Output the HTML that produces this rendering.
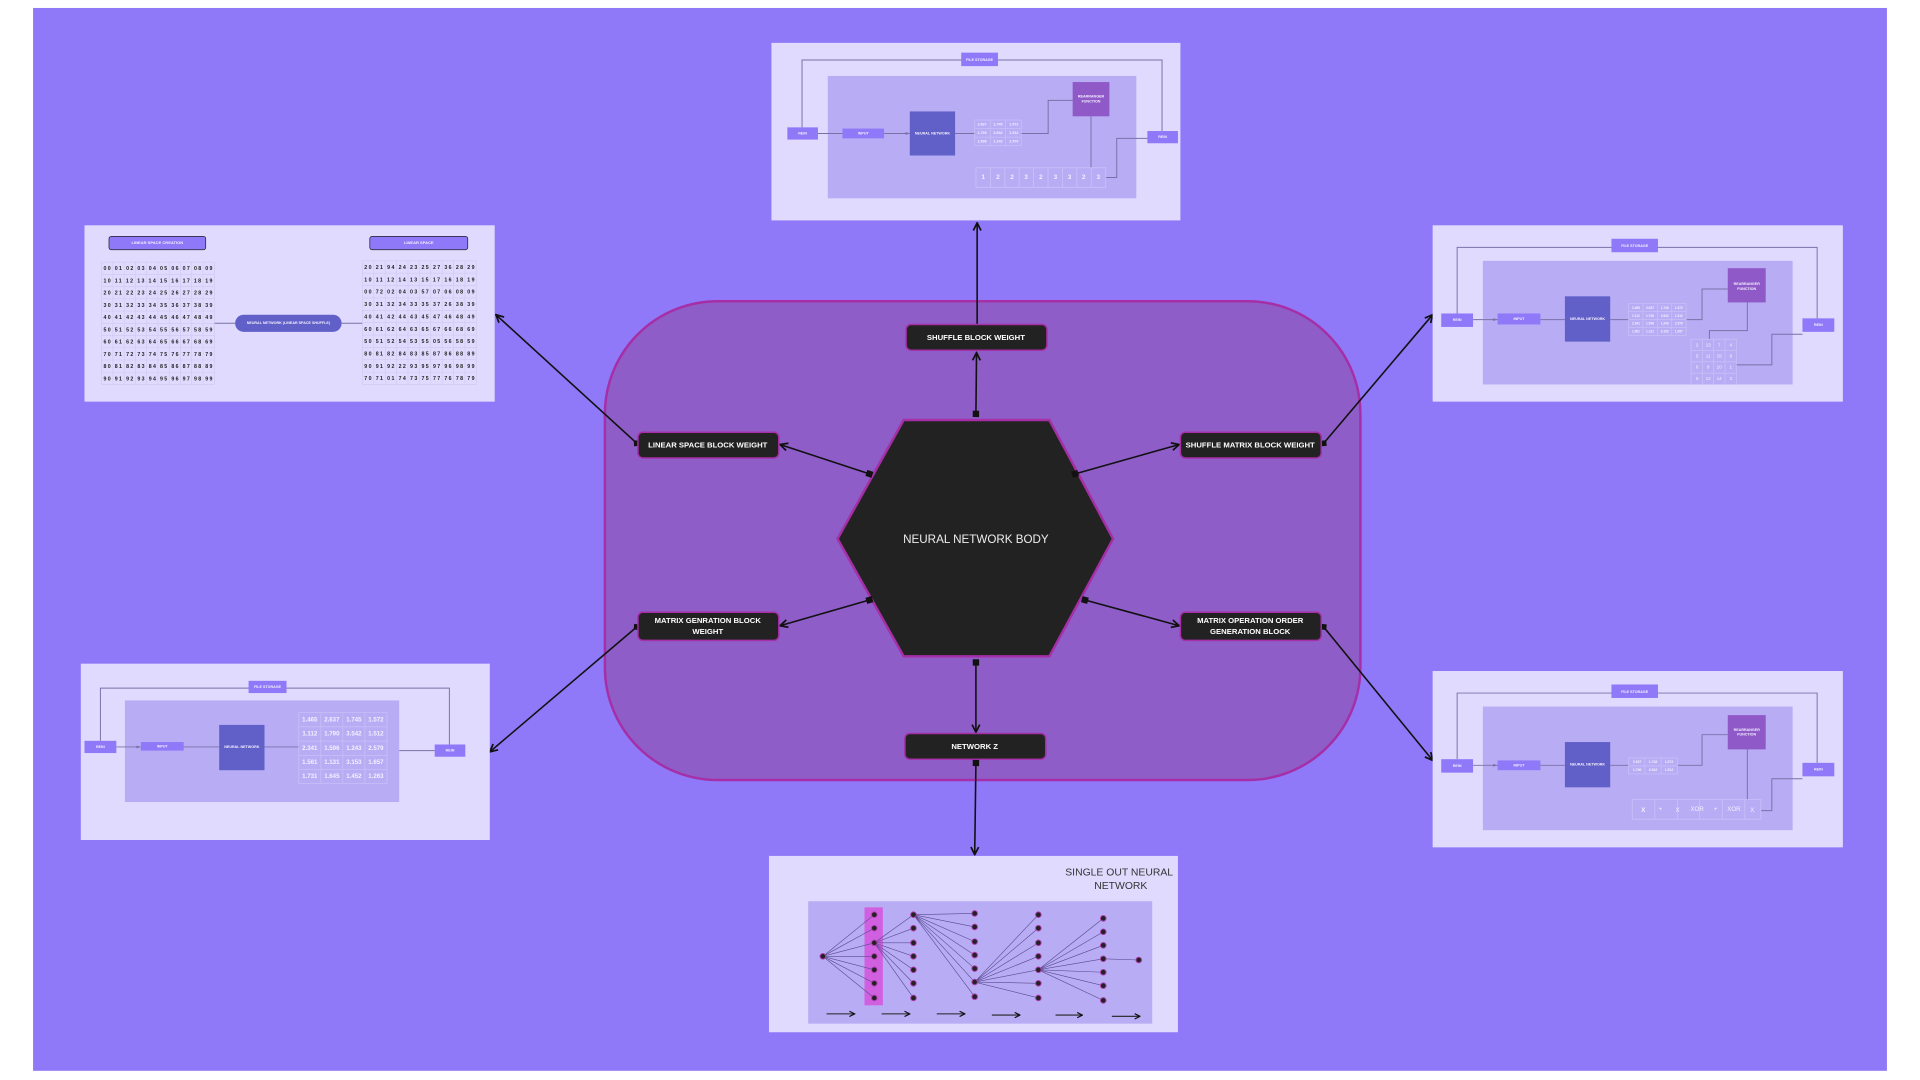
<!DOCTYPE html>
<html><head><meta charset="utf-8"><style>
html,body{margin:0;padding:0;background:#fff;width:1920px;height:1080px;overflow:hidden}
svg{display:block}
text{font-family:"Liberation Sans",sans-serif}
.t{fill:#fff;font-weight:bold;text-anchor:middle;dominant-baseline:middle}
.n{fill:#222;font-size:4.3px;font-weight:bold;dominant-baseline:middle}
.w{fill:#f4f0ff;font-weight:bold;text-anchor:middle;dominant-baseline:middle}
.ln{stroke:#7a70a8;stroke-width:0.8;fill:none}
.k{stroke:#111;stroke-width:1.3;fill:none}
.nn{stroke:#5a4a90;stroke-width:0.5}
</style></head><body>
<svg width="1920" height="1080" viewBox="0 0 1568 882" xmlns="http://www.w3.org/2000/svg">
<defs>
<marker id="ar" viewBox="0 0 10 10" refX="9" refY="5" markerWidth="6" markerHeight="6" orient="auto-start-reverse"><path d="M1 1 L9 5 L1 9" fill="none" stroke="#111" stroke-width="1.8"/></marker>
<marker id="sq" viewBox="0 0 10 10" refX="5" refY="5" markerWidth="5" markerHeight="5" orient="auto"><rect x="1" y="1" width="8" height="8" fill="#111"/></marker>
<marker id="dm" viewBox="0 0 10 10" refX="5" refY="5" markerWidth="5" markerHeight="5" orient="auto"><path d="M5 0 L10 5 L5 10 L0 5Z" fill="#111"/></marker>
<marker id="sa" viewBox="0 0 10 10" refX="9" refY="5" markerWidth="5" markerHeight="5" orient="auto"><path d="M0 2 L9 5 L0 8Z" fill="#7a70a8"/></marker>
</defs>
<rect x="27" y="6.5" width="1514" height="868" fill="#8f79f8"/>

<!-- big body -->
<rect x="494" y="246" width="617" height="391" rx="92" fill="#8e5dc8" stroke="#a62ea6" stroke-width="2"/>
<polygon points="738,343 857,343 909,440 857,536 738,536 684,440" fill="#222" stroke="#a62ea6" stroke-width="2"/>
<text x="797" y="441" class="t" style="font-weight:normal;font-size:9.5px;fill:#eee">NEURAL NETWORK BODY</text>

<!-- connectors -->
<line x1="798" y1="265" x2="798" y2="182" class="k" marker-end="url(#ar)"/>
<line x1="797" y1="338" x2="797.5" y2="288" class="k" marker-start="url(#sq)" marker-end="url(#ar)"/>
<line x1="710" y1="387" x2="637" y2="363" class="k" marker-start="url(#sq)" marker-end="url(#ar)"/>
<line x1="520" y1="362" x2="405" y2="257" class="k" marker-start="url(#dm)" marker-end="url(#ar)"/>
<line x1="878" y1="387" x2="963" y2="363" class="k" marker-start="url(#sq)" marker-end="url(#ar)"/>
<line x1="1081" y1="362" x2="1170" y2="257" class="k" marker-start="url(#dm)" marker-end="url(#ar)"/>
<line x1="710" y1="490" x2="637" y2="511" class="k" marker-start="url(#sq)" marker-end="url(#ar)"/>
<line x1="520" y1="512" x2="400" y2="614" class="k" marker-start="url(#dm)" marker-end="url(#ar)"/>
<line x1="886" y1="490" x2="963" y2="511" class="k" marker-start="url(#sq)" marker-end="url(#ar)"/>
<line x1="1081" y1="512" x2="1170" y2="621" class="k" marker-start="url(#dm)" marker-end="url(#ar)"/>
<line x1="797" y1="541" x2="797" y2="598" class="k" marker-start="url(#sq)" marker-end="url(#ar)"/>
<line x1="797" y1="623" x2="796" y2="698" class="k" marker-start="url(#sq)" marker-end="url(#ar)"/>

<!-- nodes -->
<g stroke="#a62ea6" stroke-width="1.2" fill="#222">
<rect x="740" y="265" width="115" height="21" rx="4"/>
<rect x="521" y="353" width="115" height="21" rx="4"/>
<rect x="964" y="353" width="115" height="21" rx="4"/>
<rect x="521" y="500" width="115" height="23" rx="4"/>
<rect x="964" y="500" width="115" height="23" rx="4"/>
<rect x="739" y="599" width="115" height="21" rx="4"/>
</g>
<g class="t" style="font-size:6.3px">
<text x="797" y="276">SHUFFLE BLOCK WEIGHT</text>
<text x="578" y="364">LINEAR SPACE BLOCK WEIGHT</text>
<text x="1021" y="364">SHUFFLE MATRIX BLOCK WEIGHT</text>
<text x="578" y="507">MATRIX GENRATION BLOCK</text>
<text x="578" y="516">WEIGHT</text>
<text x="1021" y="507">MATRIX OPERATION ORDER</text>
<text x="1021" y="516">GENERATION BLOCK</text>
<text x="796" y="610">NETWORK Z</text>
</g>

<!-- TOP PANEL -->
<rect x="630" y="35" width="334" height="145" fill="#e0dbfe"/>
<rect x="676" y="62" width="252" height="100" fill="#b8adf5"/>
<polyline points="655,104 655,49 949,49 949,107" class="ln"/>
<line x1="668" y1="109" x2="688" y2="109" class="ln"/>
<line x1="722" y1="109" x2="743" y2="109" class="ln" marker-end="url(#sa)"/>
<line x1="780" y1="109" x2="796" y2="109" class="ln"/>
<polyline points="834,109 856,109 856,82 876,82" class="ln"/>
<line x1="891" y1="95" x2="891" y2="137" class="ln"/>
<polyline points="903,145 912,145 912,113 937,113" class="ln"/>
<rect x="785" y="43" width="30" height="11" fill="#8f79f8"/><text x="800" y="49" class="w" style="font-size:3px">FILE STORAGE</text>
<rect x="643" y="104" width="25" height="10" fill="#8f79f8"/><text x="655.5" y="109" class="w" style="font-size:3px">REIN</text>
<rect x="688" y="105" width="34" height="8" fill="#8f79f8"/><text x="705" y="109" class="w" style="font-size:3px">INPUT</text>
<rect x="743" y="91" width="37" height="36" fill="#6060c8"/><text x="761.5" y="109" class="w" style="font-size:3px">NEURAL NETWORK</text>
<rect x="876" y="67" width="30" height="28" fill="#8f5ac8"/><text x="891" y="79" class="w" style="font-size:3px">REARRANGER</text><text x="891" y="83" class="w" style="font-size:3px">FUNCTION</text>
<rect x="937" y="107" width="25" height="10" fill="#8f79f8"/><text x="949.5" y="112" class="w" style="font-size:3px">REIN</text>
<g stroke="#cbc2f8" stroke-width="0.5" fill="none"><rect x="796" y="98" width="38" height="21"/><path d="M808.7 98V119M821.3 98V119M796 105H834M796 112H834"/></g>
<g class="w" style="font-size:3px"><text x="802" y="101.5">2.637</text><text x="815" y="101.5">1.745</text><text x="828" y="101.5">1.572</text><text x="802" y="108.5">1.790</text><text x="815" y="108.5">3.542</text><text x="828" y="108.5">1.512</text><text x="802" y="115.5">1.596</text><text x="815" y="115.5">1.243</text><text x="828" y="115.5">2.579</text></g>
<g stroke="#cbc2f8" stroke-width="0.6" fill="none"><rect x="797" y="137" width="106" height="16"/><path d="M808.8 137v16M820.6 137v16M832.3 137v16M844.1 137v16M855.9 137v16M867.7 137v16M879.4 137v16M891.2 137v16"/></g>
<g class="w" style="font-size:5px"><text x="803" y="145">1</text><text x="815" y="145">2</text><text x="826.5" y="145">2</text><text x="838" y="145">3</text><text x="850" y="145">2</text><text x="862" y="145">3</text><text x="873.5" y="145">3</text><text x="885" y="145">2</text><text x="897" y="145">3</text></g>

<!-- RIGHT TOP PANEL -->
<rect x="1170" y="184" width="335" height="144" fill="#e0dbfe"/>
<rect x="1211" y="213" width="253" height="101" fill="#b8adf5"/>
<polyline points="1190,256 1190,202 1484,202 1484,260" class="ln"/>
<line x1="1203" y1="261" x2="1223" y2="261" class="ln" marker-end="url(#sa)"/>
<line x1="1258" y1="261" x2="1278" y2="261" class="ln"/>
<line x1="1315" y1="261" x2="1330" y2="261" class="ln"/>
<polyline points="1377,261 1390,261 1390,236 1411,236" class="ln"/>
<polyline points="1427,247 1427,270 1396,270 1396,277" class="ln"/>
<polyline points="1418,298 1447,298 1447,273 1472,273" class="ln"/>
<rect x="1316" y="195" width="38" height="11" fill="#8f79f8"/><text x="1335" y="201" class="w" style="font-size:3px">FILE STORAGE</text>
<rect x="1177" y="256" width="26" height="11" fill="#8f79f8"/><text x="1190" y="261.5" class="w" style="font-size:3px">REIN</text>
<rect x="1223" y="256" width="35" height="9" fill="#8f79f8"/><text x="1240.5" y="260.5" class="w" style="font-size:3px">INPUT</text>
<rect x="1278" y="242" width="37" height="37" fill="#6060c8"/><text x="1296.5" y="260.5" class="w" style="font-size:3px">NEURAL NETWORK</text>
<rect x="1411" y="219" width="31" height="28" fill="#8f5ac8"/><text x="1426.5" y="232" class="w" style="font-size:3px">REARRANGER</text><text x="1426.5" y="236" class="w" style="font-size:3px">FUNCTION</text>
<rect x="1472" y="260" width="26" height="11" fill="#8f79f8"/><text x="1485" y="265.5" class="w" style="font-size:3px">REIN</text>
<g stroke="#cbc2f8" stroke-width="0.5" fill="none"><rect x="1330" y="248" width="47" height="26"/><path d="M1341.75 248v26M1353.5 248v26M1365.25 248v26M1330 254.5h47M1330 261h47M1330 267.5h47"/></g>
<g class="w" style="font-size:2.6px"><text x="1336" y="251.5">1.465</text><text x="1347.5" y="251.5">2.637</text><text x="1359.5" y="251.5">1.745</text><text x="1371" y="251.5">1.572</text><text x="1336" y="258">1.112</text><text x="1347.5" y="258">1.790</text><text x="1359.5" y="258">3.542</text><text x="1371" y="258">1.512</text><text x="1336" y="264.5">2.341</text><text x="1347.5" y="264.5">1.596</text><text x="1359.5" y="264.5">1.243</text><text x="1371" y="264.5">2.579</text><text x="1336" y="271">1.561</text><text x="1347.5" y="271">1.131</text><text x="1359.5" y="271">3.153</text><text x="1371" y="271">1.657</text></g>
<g stroke="#cbc2f8" stroke-width="0.5" fill="none"><rect x="1381" y="277" width="37" height="37"/><path d="M1390.25 277v37M1399.5 277v37M1408.75 277v37M1381 286.25h37M1381 295.5h37M1381 304.75h37"/></g>
<g class="w" style="font-size:3.8px;font-weight:normal"><text x="1386" y="282">2</text><text x="1395" y="282">13</text><text x="1404" y="282">7</text><text x="1413.5" y="282">4</text><text x="1386" y="291">5</text><text x="1395" y="291">11</text><text x="1404" y="291">15</text><text x="1413.5" y="291">9</text><text x="1386" y="300">6</text><text x="1395" y="300">8</text><text x="1404" y="300">10</text><text x="1413.5" y="300">1</text><text x="1386" y="309.5">0</text><text x="1395" y="309.5">12</text><text x="1404" y="309.5">14</text><text x="1413.5" y="309.5">3</text></g>

<!-- RIGHT BOTTOM PANEL -->
<rect x="1170" y="548" width="335" height="144" fill="#e0dbfe"/>
<rect x="1211" y="577" width="253" height="101" fill="#b8adf5"/>
<polyline points="1190,620 1190,566 1484,566 1484,623" class="ln"/>
<line x1="1203" y1="625" x2="1223" y2="625" class="ln" marker-end="url(#sa)"/>
<line x1="1258" y1="625" x2="1278" y2="625" class="ln"/>
<line x1="1315" y1="625" x2="1330" y2="625" class="ln"/>
<polyline points="1370,625 1390,625 1390,600 1411,600" class="ln"/>
<line x1="1427" y1="611" x2="1427" y2="653" class="ln"/>
<polyline points="1438,662 1447,662 1447,636 1472,636" class="ln"/>
<rect x="1316" y="559" width="38" height="11" fill="#8f79f8"/><text x="1335" y="565" class="w" style="font-size:3px">FILE STORAGE</text>
<rect x="1177" y="620" width="26" height="11" fill="#8f79f8"/><text x="1190" y="625.5" class="w" style="font-size:3px">REIN</text>
<rect x="1223" y="621" width="35" height="8" fill="#8f79f8"/><text x="1240.5" y="625" class="w" style="font-size:3px">INPUT</text>
<rect x="1278" y="606" width="37" height="37" fill="#6060c8"/><text x="1296.5" y="624.5" class="w" style="font-size:3px">NEURAL NETWORK</text>
<rect x="1411" y="584" width="31" height="28" fill="#8f5ac8"/><text x="1426.5" y="596" class="w" style="font-size:3px">REARRANGER</text><text x="1426.5" y="600" class="w" style="font-size:3px">FUNCTION</text>
<rect x="1472" y="623" width="26" height="11" fill="#8f79f8"/><text x="1485" y="628.5" class="w" style="font-size:3px">REIN</text>
<g stroke="#cbc2f8" stroke-width="0.5" fill="none"><rect x="1330" y="619" width="40" height="13"/><path d="M1343.3 619v13M1356.6 619v13M1330 625.5h40"/></g>
<g class="w" style="font-size:2.8px"><text x="1337" y="622.5">2.637</text><text x="1350" y="622.5">1.745</text><text x="1363" y="622.5">1.572</text><text x="1337" y="629">1.790</text><text x="1350" y="629">3.542</text><text x="1363" y="629">1.512</text></g>
<g stroke="#cbc2f8" stroke-width="0.6" fill="none"><rect x="1333" y="653" width="105" height="16"/><path d="M1351.5 653v16M1370 653v16M1388 653v16M1406.5 653v16M1425 653v16"/></g>
<g class="w" style="font-size:5px;font-weight:normal"><text x="1342" y="662" style="font-weight:bold">X</text><text x="1356" y="661">+</text><text x="1370" y="662">X</text><text x="1386" y="661">XOR</text><text x="1401" y="661">+</text><text x="1416" y="661">XOR</text><text x="1431" y="662">X</text></g>

<!-- LEFT BOTTOM PANEL -->
<rect x="66" y="542" width="334" height="144" fill="#e0dbfe"/>
<rect x="102" y="572" width="224" height="83" fill="#b8adf5"/>
<polyline points="82,605 82,562 367,562 367,608" class="ln"/>
<line x1="95" y1="610" x2="115" y2="610" class="ln" marker-end="url(#sa)"/>
<line x1="150" y1="610" x2="179" y2="610" class="ln"/>
<line x1="216" y1="610" x2="244" y2="610" class="ln"/>
<line x1="326" y1="613" x2="355" y2="613" class="ln"/>
<rect x="203" y="556" width="31" height="10" fill="#8f79f8"/><text x="218.5" y="561" class="w" style="font-size:3px">FILE STORAGE</text>
<rect x="69" y="605" width="26" height="10" fill="#8f79f8"/><text x="82" y="610" class="w" style="font-size:3px">REIN</text>
<rect x="115" y="606" width="35" height="7" fill="#8f79f8"/><text x="132.5" y="609.5" class="w" style="font-size:3px">INPUT</text>
<rect x="179" y="592" width="37" height="37" fill="#6060c8"/><text x="197.5" y="610" class="w" style="font-size:3px">NEURAL NETWORK</text>
<rect x="355" y="608" width="25" height="10" fill="#8f79f8"/><text x="367.5" y="613" class="w" style="font-size:3px">REIN</text>
<g stroke="#cbc2f8" stroke-width="0.5" fill="none"><rect x="244" y="582" width="72" height="58"/><path d="M262 582v58M280 582v58M298 582v58M244 593.6h72M244 605.2h72M244 616.8h72M244 628.4h72"/></g>
<g class="w" style="font-size:5px"><text x="253" y="588">1.465</text><text x="271" y="588">2.637</text><text x="289" y="588">1.745</text><text x="307" y="588">1.572</text><text x="253" y="599.5">1.112</text><text x="271" y="599.5">1.790</text><text x="289" y="599.5">3.542</text><text x="307" y="599.5">1.512</text><text x="253" y="611">2.341</text><text x="271" y="611">1.596</text><text x="289" y="611">1.243</text><text x="307" y="611">2.579</text><text x="253" y="622.5">1.561</text><text x="271" y="622.5">1.131</text><text x="289" y="622.5">3.153</text><text x="307" y="622.5">1.657</text><text x="253" y="634">1.731</text><text x="271" y="634">1.645</text><text x="289" y="634">1.452</text><text x="307" y="634">1.263</text></g>

<!-- LEFT TOP PANEL -->
<rect x="69" y="184" width="335" height="144" fill="#e0dbfe"/>
<rect x="89" y="193" width="79" height="11" rx="2" fill="#8f79f8" stroke="#222" stroke-width="0.6"/><text x="128.5" y="198.5" class="w" style="font-size:3.3px">LINEAR SPACE CREATION</text>
<rect x="302" y="193" width="80" height="11" rx="2" fill="#8f79f8" stroke="#222" stroke-width="0.6"/><text x="342" y="198.5" class="w" style="font-size:3.3px">LINEAR SPACE</text>
<line x1="175" y1="264" x2="192" y2="264" class="ln"/>
<line x1="279" y1="264" x2="296" y2="264" class="ln"/>
<rect x="192" y="257" width="87" height="14" rx="7" fill="#6060c8"/><text x="235.5" y="264" class="w" style="font-size:3px">NEURAL NETWORK (LINEAR SPACE SHUFFLE)</text>
<g stroke="#cfc8f0" stroke-width="0.5" fill="none">
<rect x="83" y="214" width="92" height="100"/>
<path d="M92.2 214v100M101.4 214v100M110.6 214v100M119.8 214v100M129 214v100M138.2 214v100M147.4 214v100M156.6 214v100M165.8 214v100M83 224h92M83 234h92M83 244h92M83 254h92M83 264h92M83 274h92M83 284h92M83 294h92M83 304h92"/>
<rect x="296" y="213" width="93" height="101"/>
<path d="M305.3 213v101M314.6 213v101M323.9 213v101M333.2 213v101M342.5 213v101M351.8 213v101M361.1 213v101M370.4 213v101M379.7 213v101M296 223.1h93M296 233.2h93M296 243.3h93M296 253.4h93M296 263.5h93M296 273.6h93M296 283.7h93M296 293.8h93M296 303.9h93"/>
</g>
<g class="n" style="word-spacing:0">
<text x="84.5" y="219.5" textLength="89" lengthAdjust="spacing">00 01 02 03 04 05 06 07 08 09</text>
<text x="84.5" y="229.5" textLength="89" lengthAdjust="spacing">10 11 12 13 14 15 16 17 18 19</text>
<text x="84.5" y="239.5" textLength="89" lengthAdjust="spacing">20 21 22 23 24 25 26 27 28 29</text>
<text x="84.5" y="249.5" textLength="89" lengthAdjust="spacing">30 31 32 33 34 35 36 37 38 39</text>
<text x="84.5" y="259.5" textLength="89" lengthAdjust="spacing">40 41 42 43 44 45 46 47 48 49</text>
<text x="84.5" y="269.5" textLength="89" lengthAdjust="spacing">50 51 52 53 54 55 56 57 58 59</text>
<text x="84.5" y="279.5" textLength="89" lengthAdjust="spacing">60 61 62 63 64 65 66 67 68 69</text>
<text x="84.5" y="289.5" textLength="89" lengthAdjust="spacing">70 71 72 73 74 75 76 77 78 79</text>
<text x="84.5" y="299.5" textLength="89" lengthAdjust="spacing">80 81 82 83 84 85 86 87 88 89</text>
<text x="84.5" y="309.5" textLength="89" lengthAdjust="spacing">90 91 92 93 94 95 96 97 98 99</text>
<text x="297.5" y="218.5" textLength="90" lengthAdjust="spacing">20 21 94 24 23 25 27 36 28 29</text>
<text x="297.5" y="228.6" textLength="90" lengthAdjust="spacing">10 11 12 14 13 15 17 16 18 19</text>
<text x="297.5" y="238.7" textLength="90" lengthAdjust="spacing">00 72 02 04 03 57 07 06 08 09</text>
<text x="297.5" y="248.8" textLength="90" lengthAdjust="spacing">30 31 32 34 33 35 37 26 38 39</text>
<text x="297.5" y="258.9" textLength="90" lengthAdjust="spacing">40 41 42 44 43 45 47 46 48 49</text>
<text x="297.5" y="269" textLength="90" lengthAdjust="spacing">60 61 62 64 63 65 67 66 68 69</text>
<text x="297.5" y="279.1" textLength="90" lengthAdjust="spacing">50 51 52 54 53 55 05 56 58 59</text>
<text x="297.5" y="289.2" textLength="90" lengthAdjust="spacing">80 81 82 84 83 85 87 86 88 89</text>
<text x="297.5" y="299.3" textLength="90" lengthAdjust="spacing">90 91 92 22 93 95 97 96 98 99</text>
<text x="297.5" y="309.4" textLength="90" lengthAdjust="spacing">70 71 01 74 73 75 77 76 78 79</text>
</g>

<!-- BOTTOM PANEL -->
<rect x="628" y="699" width="334" height="144" fill="#e0dbfe"/>
<rect x="660" y="736" width="281" height="100" fill="#b8adf5"/>
<text x="958" y="715" style="font-size:8.5px;fill:#333;text-anchor:end">SINGLE OUT NEURAL</text>
<text x="937" y="726" style="font-size:8.5px;fill:#333;text-anchor:end">NETWORK</text>
<rect x="706" y="741" width="15" height="80" fill="#d060e0"/>
<g class="nn">
<path d="M672 781L714 747M672 781L714 758M672 781L714 770M672 781L714 781M672 781L714 792M672 781L714 803M672 781L714 815"/>
<path d="M714 770L746 747M714 770L746 758M714 770L746 770M714 770L746 781M714 770L746 792M714 770L746 803M714 770L746 815"/>
<path d="M746 747L796 746M746 747L796 757M746 747L796 769M746 747L796 780M746 747L796 791M746 747L796 802M746 747L796 814"/>
<path d="M796 802L848 747M796 802L848 758M796 802L848 770M796 802L848 781M796 802L848 792M796 802L848 803M796 802L848 815"/>
<path d="M848 792L901 750M848 792L901 761M848 792L901 772M848 792L901 783M848 792L901 794M848 792L901 805M848 792L901 817"/>
<path d="M901 783L930 784"/>
</g>
<g fill="#222" stroke="#b040b0" stroke-width="0.8">
<circle cx="672" cy="781" r="2.3"/>
<circle cx="714" cy="747" r="2.3"/><circle cx="714" cy="758" r="2.3"/><circle cx="714" cy="770" r="2.3"/><circle cx="714" cy="781" r="2.3"/><circle cx="714" cy="792" r="2.3"/><circle cx="714" cy="803" r="2.3"/><circle cx="714" cy="815" r="2.3"/>
<circle cx="746" cy="747" r="2.3"/><circle cx="746" cy="758" r="2.3"/><circle cx="746" cy="770" r="2.3"/><circle cx="746" cy="781" r="2.3"/><circle cx="746" cy="792" r="2.3"/><circle cx="746" cy="803" r="2.3"/><circle cx="746" cy="815" r="2.3"/>
<circle cx="796" cy="746" r="2.3"/><circle cx="796" cy="757" r="2.3"/><circle cx="796" cy="769" r="2.3"/><circle cx="796" cy="780" r="2.3"/><circle cx="796" cy="791" r="2.3"/><circle cx="796" cy="802" r="2.3"/><circle cx="796" cy="814" r="2.3"/>
<circle cx="848" cy="747" r="2.3"/><circle cx="848" cy="758" r="2.3"/><circle cx="848" cy="770" r="2.3"/><circle cx="848" cy="781" r="2.3"/><circle cx="848" cy="792" r="2.3"/><circle cx="848" cy="803" r="2.3"/><circle cx="848" cy="815" r="2.3"/>
<circle cx="901" cy="750" r="2.3"/><circle cx="901" cy="761" r="2.3"/><circle cx="901" cy="772" r="2.3"/><circle cx="901" cy="783" r="2.3"/><circle cx="901" cy="794" r="2.3"/><circle cx="901" cy="805" r="2.3"/><circle cx="901" cy="817" r="2.3"/>
<circle cx="930" cy="784" r="2.3"/>
</g>
<g stroke="#222" stroke-width="0.9">
<line x1="675" y1="828" x2="698" y2="828" marker-end="url(#ar)"/>
<line x1="720" y1="828" x2="743" y2="828" marker-end="url(#ar)"/>
<line x1="765" y1="828" x2="788" y2="828" marker-end="url(#ar)"/>
<line x1="810" y1="829" x2="833" y2="829" marker-end="url(#ar)"/>
<line x1="862" y1="829" x2="884" y2="829" marker-end="url(#ar)"/>
<line x1="908" y1="830" x2="931" y2="830" marker-end="url(#ar)"/>
</g>
</svg>
</body></html>
